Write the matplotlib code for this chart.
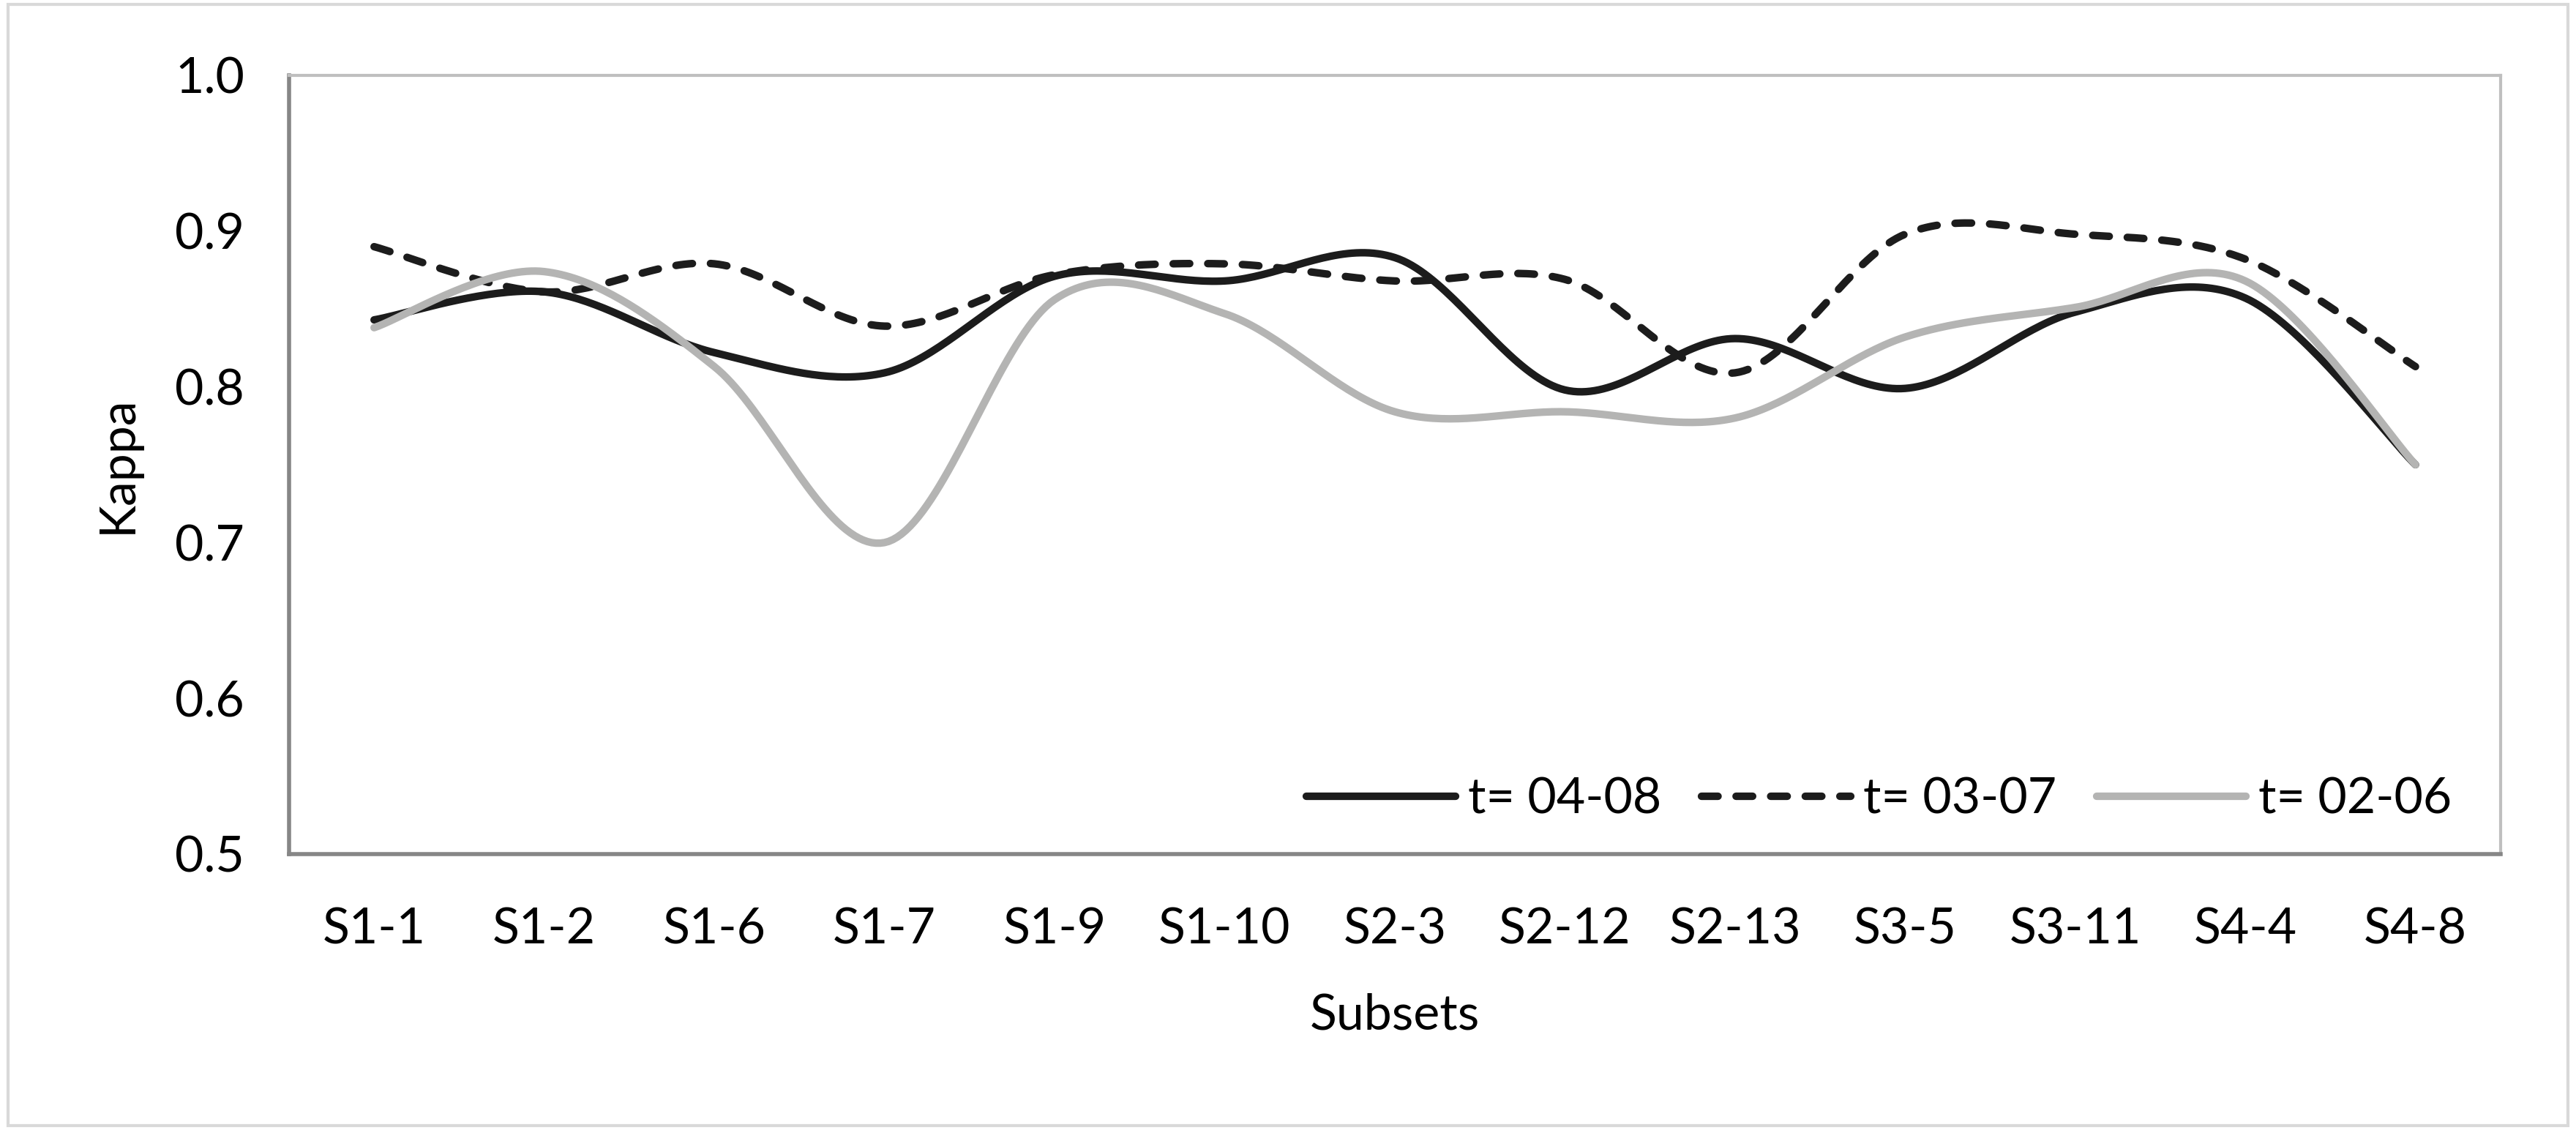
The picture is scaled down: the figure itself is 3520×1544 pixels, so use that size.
import numpy as np
import matplotlib
matplotlib.use("Agg")
import matplotlib.pyplot as plt
from matplotlib.patches import Rectangle

# --- Data ---
subsets = ["S1-1", "S1-2", "S1-6", "S1-7", "S1-9", "S1-10", "S2-3",
           "S2-12", "S2-13", "S3-5", "S3-11", "S4-4", "S4-8"]
kappa_04_08 = [0.843, 0.861, 0.822, 0.809, 0.871, 0.868, 0.883,
               0.798, 0.831, 0.799, 0.848, 0.857, 0.750]
kappa_03_07 = [0.890, 0.861, 0.879, 0.839, 0.872, 0.879, 0.868,
               0.869, 0.809, 0.898, 0.898, 0.882, 0.813]
kappa_02_06 = [0.838, 0.874, 0.813, 0.700, 0.856, 0.847, 0.784,
               0.784, 0.780, 0.832, 0.851, 0.868, 0.750]
labels = ["t= 04-08", "t= 03-07", "t= 02-06"]

plt.rcParams['font.family'] = ['Lato', 'DejaVu Sans']
FS = 24.5


# --- Excel-like smoothed line (bezier through the points) ---
def smooth(y, n=40):
    y = np.asarray(y, dtype=float)
    x = np.arange(len(y), dtype=float)
    xs, ys = [], []
    for i in range(len(y) - 1):
        x0, y0 = x[i], y[i]
        x3, y3 = x[i + 1], y[i + 1]
        xp, yp = (x[i - 1], y[i - 1]) if i > 0 else (x0, y0)
        xn, yn = (x[i + 2], y[i + 2]) if i + 2 < len(y) else (x3, y3)
        x1, y1 = x0 + (x3 - xp) / 6, y0 + (y3 - yp) / 6
        x2, y2 = x3 - (xn - x0) / 6, y3 - (yn - y0) / 6
        t = np.linspace(0, 1, n, endpoint=(i == len(y) - 2))
        a, b, c, d = (1 - t) ** 3, 3 * t * (1 - t) ** 2, 3 * t ** 2 * (1 - t), t ** 3
        xs.append(a * x0 + b * x1 + c * x2 + d * x3)
        ys.append(a * y0 + b * y1 + c * y2 + d * y3)
    return np.concatenate(xs), np.concatenate(ys)


fig = plt.figure(figsize=(17.6, 7.72), dpi=200)
ax = fig.add_axes([0.1122, 0.2442, 0.8585, 0.6891])

black = '#1c1c1c'
gray = '#b4b4b3'
lw = 3.7

xs, ys = smooth(kappa_04_08)
ax.plot(xs, ys, color=black, lw=lw, solid_capstyle='round', label=labels[0])
xs, ys = smooth(kappa_03_07)
ax.plot(xs, ys, color=black, lw=lw, linestyle=(0, (2.2, 2.4)),
        dash_capstyle='round', label=labels[1])
xs, ys = smooth(kappa_02_06)
ax.plot(xs, ys, color=gray, lw=lw, solid_capstyle='round', label=labels[2])

ax.set_xlim(-0.5, len(subsets) - 0.5)
ax.set_ylim(0.5, 1.0)
ax.set_yticks(np.arange(0.5, 1.01, 0.1))
ax.set_yticklabels([f"{v:.1f}" for v in np.arange(0.5, 1.01, 0.1)])
ax.set_xticks(range(len(subsets)))
ax.set_xticklabels(subsets)
ax.tick_params(axis='both', length=0, labelsize=FS, colors='#000000')
ax.tick_params(axis='x', pad=26)
ax.tick_params(axis='y', pad=22)

for side in ['top', 'right']:
    ax.spines[side].set_color('#bfbfbf')
    ax.spines[side].set_linewidth(1.5)
for side in ['left', 'bottom']:
    ax.spines[side].set_color('#868686')
    ax.spines[side].set_linewidth(2.0)

ax.set_ylabel("Kappa", fontsize=FS, labelpad=17)
ax.set_xlabel("Subsets", fontsize=FS, labelpad=20)

ax.legend(loc='center right', bbox_to_anchor=(3350 / 3520, 1 - 1093 / 1544),
          bbox_transform=fig.transFigure, ncol=3, frameon=False,
          borderpad=0, borderaxespad=0, fontsize=FS, handlelength=3.0,
          handletextpad=0.25, columnspacing=0.8)

# outer chart border
fig.patches.append(Rectangle((0.003, 0.004), 0.994, 0.992, transform=fig.transFigure,
                             fill=False, edgecolor='#d9d9d9', linewidth=1.5))

fig.savefig("out.png", dpi=200, facecolor='white')
